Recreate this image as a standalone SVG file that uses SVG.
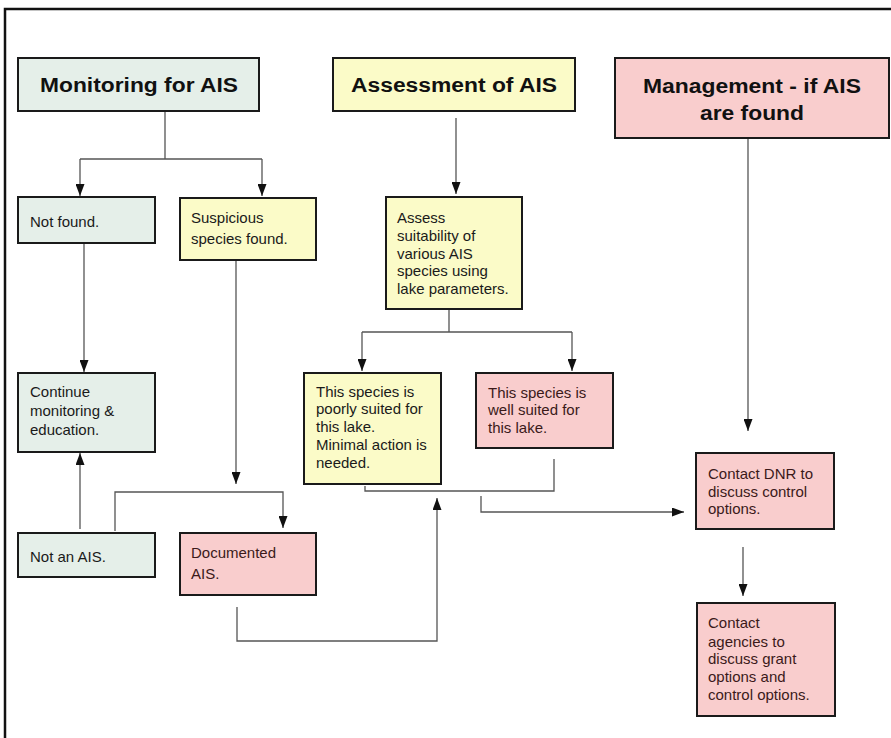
<svg xmlns="http://www.w3.org/2000/svg" width="891" height="738" viewBox="0 0 891 738">
<defs>
<marker id="arr" markerUnits="userSpaceOnUse" markerWidth="12" markerHeight="9" refX="12" refY="4.5" orient="auto">
<path d="M0,0 L12,4.5 L0,9 z" fill="#111"/>
</marker>
<style>
.box{stroke:#1a1a1a;stroke-width:2}
.g{fill:#e5efe9}
.y{fill:#fbfbc8}
.p{fill:#f9cdcd}
.t{font-family:"Liberation Sans",Arial,sans-serif;font-size:15px;fill:#1a1a1a}
.tp{font-family:"Liberation Sans",Arial,sans-serif;font-size:15px;fill:#3b1a1a}
.h{font-family:"Liberation Sans",Arial,sans-serif;font-size:20px;font-weight:bold;fill:#111;text-anchor:middle}
.c{fill:none;stroke:#555;stroke-width:1.3}
.a{fill:none;stroke:#555;stroke-width:1.3;marker-end:url(#arr)}
</style>
</defs>
<rect x="0" y="0" width="891" height="738" fill="#ffffff"/>
<path d="M5,738 V9 H891" fill="none" stroke="#111" stroke-width="2.5"/>

<g id="connectors">
<path class="c" d="M165,112 V159 M80,159 H262"/>
<path class="a" d="M80,159 V196"/>
<path class="a" d="M262,159 V196"/>
<path class="a" d="M84,243 V372"/>
<path class="a" d="M236,261 V484"/>
<path class="a" d="M115,531 V492 H283 V528"/>
<path class="a" d="M80,529 V453"/>
<path class="a" d="M237,607 V641 H437 V498"/>
<path class="a" d="M456,118 V194"/>
<path class="c" d="M449,309 V332 M362,332 H572"/>
<path class="a" d="M362,332 V371"/>
<path class="a" d="M572,332 V371"/>
<path class="c" d="M365,486 V491 H554 V459"/>
<path class="a" d="M481,496 V512 H684"/>
<path class="a" d="M748,138 V431"/>
<path class="a" d="M743,547 V596"/>
</g>

<g id="monitoring">
<rect class="box g" x="18" y="58" width="241" height="53"/>
<text class="h" x="139" y="92" textLength="198" lengthAdjust="spacingAndGlyphs">Monitoring for AIS</text>
</g>
<g id="assessment">
<rect class="box y" x="333" y="58" width="242" height="53"/>
<text class="h" x="454" y="92" textLength="206" lengthAdjust="spacingAndGlyphs">Assessment of AIS</text>
</g>
<g id="management">
<rect class="box p" x="615" y="58" width="274" height="80"/>
<text class="h" x="752" y="93" textLength="218" lengthAdjust="spacingAndGlyphs">Management - if AIS</text>
<text class="h" x="752" y="120" textLength="104" lengthAdjust="spacingAndGlyphs">are found</text>
</g>
<g id="not-found">
<rect class="box g" x="18" y="197" width="137" height="46"/>
<text class="t" x="30" y="227">Not found.</text>
</g>
<g id="suspicious">
<rect class="box y" x="180" y="198" width="136" height="62"/>
<text class="t" x="191" y="223">Suspicious</text>
<text class="t" x="191" y="244">species found.</text>
</g>
<g id="assess">
<rect class="box y" x="386" y="197" width="136" height="112"/>
<text class="t" x="397" y="223">Assess</text>
<text class="t" x="397" y="241">suitability of</text>
<text class="t" x="397" y="259">various AIS</text>
<text class="t" x="397" y="276">species using</text>
<text class="t" x="397" y="294">lake parameters.</text>
</g>
<g id="continue">
<rect class="box g" x="18" y="373" width="137" height="79"/>
<text class="t" x="30" y="397">Continue</text>
<text class="t" x="30" y="416">monitoring &amp;</text>
<text class="t" x="30" y="435">education.</text>
</g>
<g id="poorly-suited">
<rect class="box y" x="304" y="373" width="137" height="111"/>
<text class="t" x="316" y="397">This species is</text>
<text class="t" x="316" y="414">poorly suited for</text>
<text class="t" x="316" y="432">this lake.</text>
<text class="t" x="316" y="450">Minimal action is</text>
<text class="t" x="316" y="468">needed.</text>
</g>
<g id="well-suited">
<rect class="box p" x="476" y="373" width="137" height="75"/>
<text class="tp" x="488" y="398">This species is</text>
<text class="tp" x="488" y="415">well suited for</text>
<text class="tp" x="488" y="433">this lake.</text>
</g>
<g id="contact-dnr">
<rect class="box p" x="696" y="453" width="138" height="76"/>
<text class="tp" x="708" y="479">Contact DNR to</text>
<text class="tp" x="708" y="497">discuss control</text>
<text class="tp" x="708" y="514">options.</text>
</g>
<g id="not-an-ais">
<rect class="box g" x="18" y="533" width="137" height="44"/>
<text class="t" x="30" y="562">Not an AIS.</text>
</g>
<g id="documented">
<rect class="box p" x="180" y="533" width="136" height="62"/>
<text class="tp" x="191" y="558">Documented</text>
<text class="tp" x="191" y="579">AIS.</text>
</g>
<g id="contact-agencies">
<rect class="box p" x="697" y="603" width="138" height="113"/>
<text class="tp" x="708" y="628">Contact</text>
<text class="tp" x="708" y="647">agencies to</text>
<text class="tp" x="708" y="664">discuss grant</text>
<text class="tp" x="708" y="682">options and</text>
<text class="tp" x="708" y="700">control options.</text>
</g>
</svg>
